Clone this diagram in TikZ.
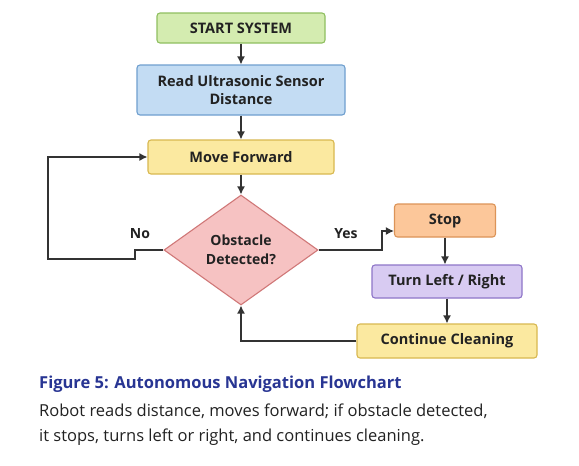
\documentclass[tikz,border=0pt]{standalone}
\usepackage{fontspec}
\setmainfont{Open Sans}
\usetikzlibrary{shapes.geometric,arrows.meta,calc}
\definecolor{gfill}{HTML}{D4ECB0}\definecolor{gdraw}{HTML}{8FBF60}
\definecolor{bfill}{HTML}{C3DCF3}\definecolor{bdraw}{HTML}{6F9FCF}
\definecolor{yfill}{HTML}{FBE9A0}\definecolor{ydraw}{HTML}{D8B850}
\definecolor{rfill}{HTML}{F6C2C2}\definecolor{rdraw}{HTML}{D07878}
\definecolor{ofill}{HTML}{FCC79A}\definecolor{odraw}{HTML}{DC9458}
\definecolor{pfill}{HTML}{D8CBF2}\definecolor{pdraw}{HTML}{8E75C8}
\definecolor{linec}{HTML}{333333}
\definecolor{capblue}{HTML}{283593}
\definecolor{txt}{HTML}{222222}
\tikzset{
  box/.style={rectangle, rounded corners=3pt, line width=1.1pt, inner sep=0pt, align=center,
    font=\fontsize{14.5}{17.5}\selectfont\bfseries, text=txt},
  arr/.style={draw=linec, line width=1.4pt, -{Latex[length=8pt,width=8pt]}},
  lbl/.style={font=\fontsize{14}{16}\selectfont\bfseries, text=txt, inner sep=0pt}
}
\begin{document}
\begin{tikzpicture}[x=1pt,y=-1pt]
\useasboundingbox (0,0) rectangle (579,466);
\fill[white] (0,0) rectangle (579,466);
\node[box, fill=gfill, draw=gdraw, minimum width=168, minimum height=30] (start) at (241,28) {START SYSTEM};
\node[box, fill=bfill, draw=bdraw, minimum width=208, minimum height=50] (read) at (241,90) {Read Ultrasonic Sensor\\Distance};
\node[box, fill=yfill, draw=ydraw, minimum width=186, minimum height=34] (move) at (241,157) {Move Forward};
\node[diamond, draw=rdraw, fill=rfill, line width=1.1pt, inner sep=0pt, minimum width=154, minimum height=110, align=center,
  font=\fontsize{14}{19}\selectfont\bfseries, text=txt] (dec) at (241,250) {Obstacle\\Detected?};
\node[box, fill=ofill, draw=odraw, minimum width=101, minimum height=33] (stop) at (445,220.5) {Stop};
\node[box, fill=pfill, draw=pdraw, minimum width=150, minimum height=33] (turn) at (447,281.5) {Turn Left / Right};
\node[box, fill=yfill, draw=ydraw, minimum width=180, minimum height=34] (cont) at (447,341) {Continue Cleaning};

\draw[arr] (start) -- (read);
\draw[arr] (read) -- (move);
\draw[arr] (move) -- (dec);
\coordinate (n1) at (135,250);
\coordinate (n2) at (135,259);
\coordinate (n3) at (48,259);
\coordinate (n4) at (48,157);
\draw[arr] (dec.west) -- (n1) -- (n2) -- (n3) -- (n4) -- (move.west);
\coordinate (y1) at (382,250);
\coordinate (y2) at (382,231);
\draw[arr] (dec.east) -- (y1) -- (y2) -- (y2 -| stop.west);
\draw[arr] (stop) -- (stop.south |- turn.north);
\draw[arr] (turn) -- (turn.south |- cont.north);
\draw[arr] (cont.west) -- (cont.west -| dec.south) -- (dec.south);
\node[lbl] (no) at (140,234) {No};
\node[lbl] (yes) at (346,234) {Yes};

\node[anchor=west, inner sep=0pt, font=\fontsize{16.5}{20}\selectfont\bfseries, text=capblue] (cap) at (39,384) {Figure 5: Autonomous Navigation Flowchart};
\node[anchor=west, inner sep=0pt, font=\fontsize{16.5}{20}\selectfont, text=txt] (l1) at (39,411) {Robot reads distance, moves forward; if obstacle detected,};
\node[anchor=west, inner sep=0pt, font=\fontsize{16.5}{20}\selectfont, text=txt] (l2) at (39,437) {it stops, turns left or right, and continues cleaning.};
\end{tikzpicture}
\end{document}
